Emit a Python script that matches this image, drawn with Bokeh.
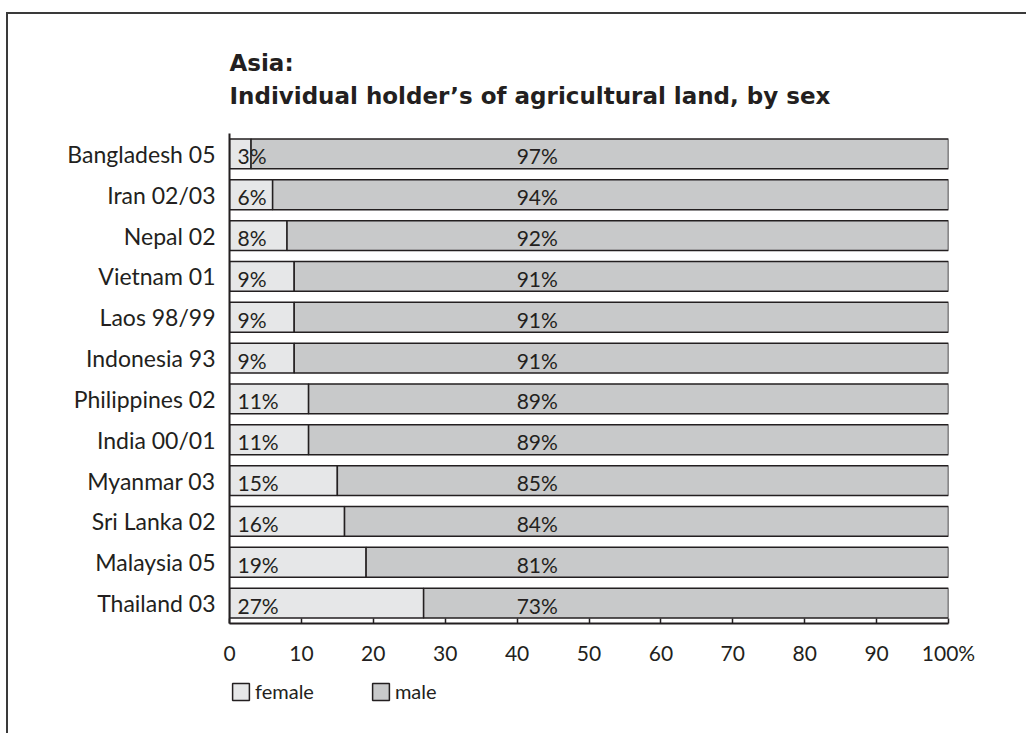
from bokeh.plotting import figure
from bokeh.layouts import column
from bokeh.models import (ColumnDataSource, FactorRange, Range1d, Title, Legend,
                          LegendItem, SingleIntervalTicker, InlineStyleSheet)
from bokeh.core.properties import value
from bokeh.embed import file_html
from bokeh.resources import INLINE

# Share of individual holders of agricultural land, by sex (%)
countries = ["Bangladesh 05", "Iran 02/03", "Nepal 02", "Vietnam 01", "Laos 98/99",
             "Indonesia 93", "Philippines 02", "India 00/01", "Myanmar 03",
             "Sri Lanka 02", "Malaysia 05", "Thailand 03"]
female = [3, 6, 8, 9, 9, 9, 11, 11, 15, 16, 19, 27]
male = [97, 94, 92, 91, 91, 91, 89, 89, 85, 84, 81, 73]
series = ["female", "male"]

FONT = "Lato"
TITLE_FONT = "DejaVu Sans"
INK = "#231f20"
FILLS = ["#e6e7e8", "#c8c9ca"]

source = ColumnDataSource(dict(
    country=countries,
    female=female,
    male=male,
    female_label=[f"{v}%" for v in female],
    male_label=[f"{v}%" for v in male],
))

# open frame line along the page's left and top edges
frame_css = InlineStyleSheet(css="""
:host { position: relative; overflow: visible; }
:host::before {
  content: "";
  position: absolute;
  left: 6px; top: 12px; right: 0;
  height: 721px;
  border-left: 2px solid #3a3a3a;
  border-top: 2px solid #3a3a3a;
  pointer-events: none;
  z-index: 5;
}
""")

p = figure(
    frame_width=719, frame_height=490,
    y_range=FactorRange(factors=list(reversed(countries)), range_padding=0),
    x_range=Range1d(0, 100),
    output_backend="svg", toolbar_location=None,
    min_border_left=229, min_border_right=78,
    min_border_top=133, min_border_bottom=50,
)
p.outline_line_color = None
p.background_fill_color = None
p.border_fill_color = None
p.xgrid.visible = False
p.ygrid.visible = False

p.hbar_stack(
    series, y="country", height=0.73, source=source,
    fill_color=FILLS, line_color=INK, line_width=1.5,
)

p.text(x=0, y="country", text="female_label", source=source,
       x_offset=8, y_offset=2, text_align="left", text_baseline="middle",
       text_font=value(FONT), text_font_size="21px", text_color=INK)
p.text(x=42.8, y="country", text="male_label", source=source,
       y_offset=2, text_align="center", text_baseline="middle",
       text_font=value(FONT), text_font_size="21px", text_color=INK)

# x axis: ticks pointing inward, "%" on the last label
xa = p.xaxis[0]
xa.ticker = SingleIntervalTicker(interval=10)
xa.major_label_overrides = {100: "100%"}
xa.major_tick_in = 5
xa.major_tick_out = 0
xa.minor_tick_line_color = None
xa.axis_line_width = 2
xa.axis_line_color = INK
xa.major_tick_line_color = INK
xa.major_tick_line_width = 1.5
xa.major_label_standoff = 12
xa.major_label_text_font = FONT
xa.major_label_text_font_size = "21px"
xa.major_label_text_color = INK

ya = p.yaxis[0]
ya.major_tick_line_color = None
ya.minor_tick_line_color = None
ya.axis_line_width = 2
ya.axis_line_color = INK
ya.major_label_standoff = 8
ya.major_label_text_font = FONT
ya.major_label_text_font_size = "23px"
ya.major_label_text_color = INK

p.title = Title(text="Asia:\nIndividual holder\u2019s of agricultural land, by sex",
                align="left", text_font=TITLE_FONT, text_font_size="23px",
                text_font_style="bold", text_color=INK, text_line_height=1.3,
                standoff=48)

# legend strip under the chart; its swatch renderers share the data but stay hidden
lp = figure(
    width=1026, height=60,
    x_range=Range1d(0, 100), y_range=FactorRange(factors=countries),
    x_axis_type=None, y_axis_type=None,
    output_backend="svg", toolbar_location=None, min_border=0,
)
lp.outline_line_color = None
lp.background_fill_color = None
lp.border_fill_color = None
lp.grid.visible = False

swatches = lp.hbar_stack(series, y="country", height=0.73, source=source,
                         fill_color=FILLS, line_color=INK, line_width=1.5,
                         visible=False)
legend = Legend(
    items=[LegendItem(label=s, renderers=[r]) for s, r in zip(series, swatches)],
    orientation="horizontal", location=(1, 30),
    glyph_width=21, glyph_height=21, spacing=56, padding=0, margin=0,
    label_text_font=FONT, label_text_font_size="20px", label_text_color=INK,
    label_standoff=4, border_line_color=None, background_fill_alpha=0,
    inactive_fill_alpha=0,
)
lp.add_layout(legend, "center")

page = column(p, lp, spacing=0, stylesheets=[frame_css])

open("out.html", "w").write(file_html(page, INLINE))
